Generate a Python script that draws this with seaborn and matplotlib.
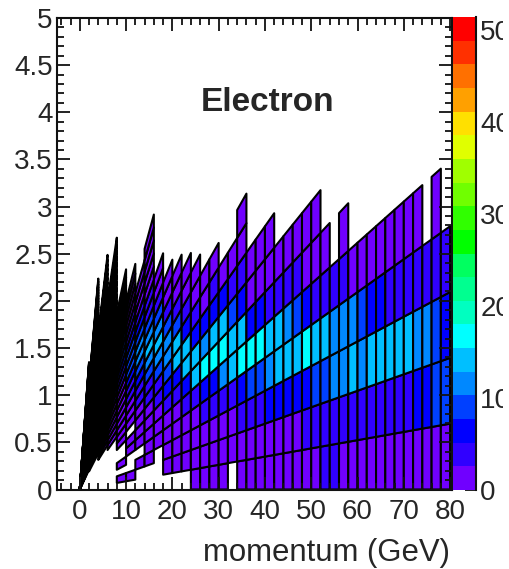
import numpy as np
import matplotlib
matplotlib.use("Agg")
import matplotlib.pyplot as plt
from matplotlib.colors import BoundaryNorm, ListedColormap
from matplotlib.ticker import MultipleLocator
from matplotlib.transforms import Bbox
import seaborn as sns

# momentum bin edges (GeV), 2 GeV wide
p_edges = [0, 2, 4, 6, 8, 10, 12, 14, 16, 18, 20, 22, 24, 26, 28, 30, 32, 34, 36, 38, 40,
           42, 44, 46, 48, 50, 52, 54, 56, 58, 60, 62, 64, 66, 68, 70, 72, 74, 76, 78, 80]
theta_step_deg = 0.5

# counts per column, from the lowest theta bin up (0 = empty cell)
low_p_cols = [
    [0] * 12 + [1.1, 1.1, 1.2, 1.2, 1.2, 1.2, 1.3, 1.3, 1.3, 1.3,
                1.4, 1.4, 1.4, 1.5, 1.5, 1.5, 1.6, 1.6, 1.6, 1.7,
                1.7, 1.8, 1.8, 1.9, 1.9, 2, 2, 2, 2.1, 2.1,
                2.1, 2.2, 2.2, 2.2, 2.2, 2.1, 2.1, 2.1, 2, 2,
                2, 1.9, 1.9, 1.8, 1.8, 1.7, 1.7, 1.6, 1.6, 1.6,
                1.5, 1.5, 1.5, 1.4, 1.4, 1.4, 1.3, 1.3, 1.3, 1.3,
                1.2, 1.2, 1.2, 1.2, 1.1, 1.1, 1.1, 1.1, 1, 1,
                1, 1, 1],
    [0] * 11 + [1.2, 1.2, 1.3, 1.3, 1.3, 1.4, 1.4, 1.5, 1.5, 1.6,
                1.8, 2, 2, 2.2, 2.5, 2.5, 2.8, 3, 3, 3.2,
                3.5, 3.5, 3.8, 4, 4, 4.2, 4.5, 4.5, 4.2, 4,
                4, 3.8, 3.5, 3.5, 3.2, 3, 3, 2.8, 2.5, 2.5,
                2.2, 2, 2, 1.8, 1.6, 1.5, 1.5, 1.4, 1.4, 1.3,
                1.3, 1.3, 1.2, 1.2, 1.2, 1.1, 1.1],
    [0] * 9 + [1.3, 1.3, 1.3, 1.4, 1.5, 1.5, 2, 2, 2.5, 3,
               3, 3.5, 4, 4.5, 5, 6, 6.5, 7, 7.5, 8,
               7.5, 7, 6.5, 6, 5, 4.5, 4, 3.5, 3, 2.5,
               2, 2, 1.5, 1.5, 1.4, 1.3, 1.3, 1.2, 1.2, 1.2],
    [0] * 8 + [1.3, 1.3, 1.4, 1.5, 2, 2.5, 3, 3.5, 4, 5,
               6, 7, 8, 9, 9.5, 9, 8, 7, 6, 5,
               4, 3.5, 3, 2.5, 2, 1.5, 1.4, 1.3, 1.3, 1.2, 1.2],
]
mid_p_cols = [
    [0, 1.2, 0, 1.2, 0, 0, 1.2, 1.2, 1.3, 1.4, 1.3, 1.4, 1.5, 2.5, 3.5, 4.5, 6, 8, 9, 8, 6, 4, 3.5, 2.5, 1.3, 1.2, 1.2],
    [0, 1.2, 0, 0, 1.2, 1.2, 0, 1.2, 1.3, 1.3, 3, 4, 6, 8.5, 10, 9, 6.5, 4, 3.5, 1.5, 1.3, 1.2, 1.2],
    [0, 0, 1.2, 0, 1.3, 1.3, 1.4, 1.5, 3, 3.5, 6, 9, 11, 11, 9, 6, 3.5, 1.5, 1.3, 1.2],
    [0, 0, 1.3, 1.3, 1.3, 1.4, 1.5, 3, 5, 9, 12, 13, 11.5, 8, 5, 3.5, 1.5, 1.3, 1.2, 1.2, 1.2],
    [0, 0, 0, 1.3, 1.3, 1.5, 3, 4, 8, 12, 13, 11, 8, 4, 1.5, 1.2],
    [0, 1.3, 1.3, 1.3, 1.5, 3, 6, 9.5, 12, 12.5, 8, 4, 1.5, 1.3],
    [0, 1.3, 1.3, 1.3, 2, 4, 7, 14, 13.5, 9, 4, 1.5, 1.3],
    [0, 1.3, 1.3, 1.4, 3, 6.5, 14.5, 13, 7, 3.5, 1.4, 1.3],
    [1.3, 1.3, 1.3, 2.5, 4.5, 13, 14.5, 7, 3.5, 1.4, 1.3],
    [1.3, 1.3, 1.5, 3, 7, 17, 12, 6, 2.5, 1.3],
    [1.3, 1.3, 1.4, 3.5, 6.5, 16.5, 13, 6, 3, 1.3],
    [1.3, 1.3, 1.5, 4, 11, 17, 14, 6, 2],
    [0, 1.3, 2, 5, 14, 14, 8, 4, 1.4],
    [1.3, 1.3, 3, 6, 16, 13, 7, 3.5, 1.5, 1.3],
]
high_p_cols = [
    [1.3, 1.3, 3.5, 8, 16.5, 7, 2.5, 1.3],
    [1.3, 1.3, 3.5, 9, 16, 6, 2.5, 1.3],
    [1.3, 1.5, 6, 11, 14, 5, 2, 1.3],
    [1.3, 1.5, 7, 14, 14, 4, 1.4],
    [1.3, 2, 6.5, 14, 11.5, 4, 1.4],
    [1.3, 2.5, 6.5, 14.5, 9, 3, 1.3],
    [1.3, 3, 6.5, 17, 7, 2.5, 1.3],
    [1.3, 3, 9, 14.5, 4, 1.5, 1.3],
    [2.8, 3.5, 10, 14, 3.5, 1.3],
    [2.8, 4, 11.5, 12, 3],
    [2.5, 4, 11.5, 11.5, 3, 1.3],
    [1.5, 4, 13, 11.5, 2],
    [1.4, 4, 12, 9, 1.5],
    [1.4, 5, 13, 6.5, 1.5],
    [1.4, 5, 14.5, 7, 1.4],
    [1.4, 5, 15, 4, 1.3],
    [1.4, 4, 14, 3.5, 1.3],
    [1.3, 5, 13.5, 3, 1.3],
    [1.3, 6.5, 11.5, 3, 1.3],
    [1.3, 6, 12, 3.5],
    [1.3, 8, 9, 3.5, 1.2],
    [1.3, 9, 7, 3.5],
]

# colour bands of the palette, bottom to top
band_colors = ["#7000ff", "#3000ff", "#0000ff", "#0040ff", "#0088ff", "#00bfff", "#00ffff",
               "#00ffc0", "#00ff90", "#00ff60", "#00ff00", "#30ff00", "#70ff00", "#a0ff00",
               "#e0ff00", "#ffe000", "#ffa000", "#ff7000", "#ff3000", "#ff0000"]
z_max = 51.4
cbar_ticks = [0, 10, 20, 30, 40, 50]
y_tick_labels = ["0", "0.5", "1", "1.5", "2", "2.5", "3", "3.5", "4", "4.5", "5"]

W, H = 510, 569
TEXT = "#262626"

sns.set_style("ticks")
plt.rcParams["font.family"] = ["Liberation Sans", "DejaVu Sans"]

# build the p / theta grid, cells are bounded by rays y = p * sin(theta)
columns = low_p_cols + mid_p_cols + high_p_cols
n_rows = max(len(c) for c in columns)
counts = np.zeros((n_rows, len(columns)))
for i, col in enumerate(columns):
    counts[: len(col), i] = col
counts = np.ma.masked_equal(counts, 0)

theta = np.radians(np.arange(n_rows + 1) * theta_step_deg)
p_grid, theta_grid = np.meshgrid(p_edges, theta)
y_grid = p_grid * np.sin(theta_grid)

cmap = ListedColormap(sns.color_palette(band_colors))
levels = np.linspace(0, z_max, len(band_colors) + 1)
norm = BoundaryNorm(levels, cmap.N)

fig = plt.figure(figsize=(W / 100, H / 100), dpi=100)
ax = fig.add_axes([57 / W, 1 - 489.5 / H, (451.5 - 57) / W, (489.5 - 18) / H])
cax = fig.add_axes([453.3 / W, 1 - 490 / H, (476 - 453.3) / W, (490 - 17) / H])

cells = ax.pcolor(p_grid, y_grid, counts, cmap=cmap, norm=norm,
                  edgecolors="black", linewidth=1.5, antialiased=True)

ax.set_xlim(-4.92, 80.3)
ax.set_ylim(0, 5)
ax.set_axisbelow(False)
ax.xaxis.set_major_locator(MultipleLocator(10))
ax.xaxis.set_minor_locator(MultipleLocator(2))
ax.yaxis.set_major_locator(MultipleLocator(0.5))
ax.yaxis.set_minor_locator(MultipleLocator(0.1))
ax.set_yticks(np.arange(len(y_tick_labels)) * 0.5, y_tick_labels)
ax.tick_params(which="both", direction="in", top=True, right=True, width=1.3, color="#111111")
ax.tick_params(which="major", length=9.5)
ax.tick_params(which="minor", length=5)
ax.tick_params(axis="x", which="major", labelsize=20, pad=7, labelcolor=TEXT)
ax.tick_params(axis="y", which="major", labelsize=20, pad=3, labelcolor=TEXT)
for spine in ax.spines.values():
    spine.set_linewidth(1.5)
    spine.set_color("#111111")

fig.text(450 / W, 1 - 561 / H, "momentum (GeV)", ha="right", va="baseline",
         fontsize=22.4, color=TEXT)
ax.text(201 / W, 1 - 111 / H, "Electron", transform=fig.transFigure, ha="left", va="baseline",
        fontsize=24, fontweight="bold", color=TEXT)

cbar = fig.colorbar(cells, cax=cax, ticks=cbar_ticks, spacing="proportional", drawedges=False)
cbar.outline.set_visible(False)
cax.minorticks_off()
cax.spines["right"].set_visible(True)
cax.spines["right"].set_linewidth(1.5)
cax.spines["right"].set_color("#111111")
cax.tick_params(which="major", direction="in", length=8, width=1.3, right=True,
                labelsize=20, pad=3, labelcolor=TEXT, color="#111111")

# the colour bar labels run off the edge of the original picture
label_clip = Bbox([[0, 0], [503, H]])
for label in cax.get_yticklabels():
    label.set_clip_box(label_clip)
    label.set_clip_on(True)

fig.savefig("out.png", dpi=100)
